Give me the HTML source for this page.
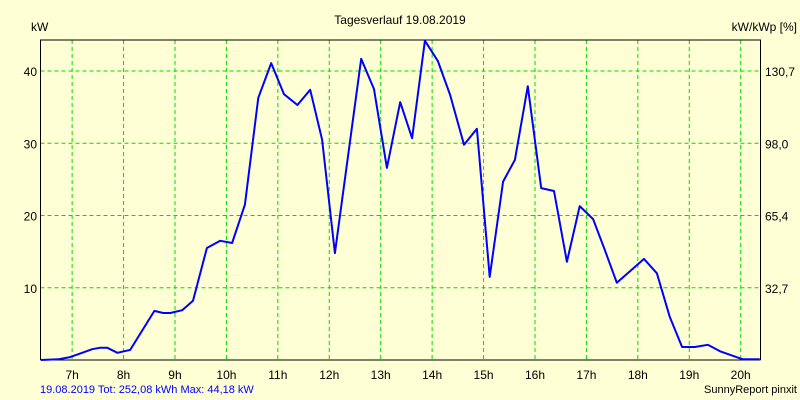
<!DOCTYPE html>
<html><head><meta charset="utf-8"><style>
body{margin:0;background:#FFFFD5;}
svg{display:block;font-family:"Liberation Sans",sans-serif;}
</style></head><body>
<svg id="c" width="800" height="400">
<rect width="800" height="400" fill="#FFFFD5"/>
<text x="400" y="24" text-anchor="middle" font-size="12">Tagesverlauf 19.08.2019</text>
<text x="31" y="31" font-size="12">kW</text>
<text x="797" y="31" text-anchor="end" font-size="12">kW/kWp [%]</text>
<text x="40" y="393" font-size="11" fill="#0000FF">19.08.2019 Tot: 252,08 kWh Max: 44,18 kW</text>
<text x="797" y="393" text-anchor="end" font-size="11">SunnyReport pinxit</text>
<g id="grid"></g><g id="axes"></g><g id="series"></g>
</svg>
<script>
const hourTicks=[7,8,9,10,11,12,13,14,15,16,17,18,19,20];
const kwTicks=[10,20,30,40];
const pctLabels=["32,7","65,4","98,0","130,7"];
const hours=[6.39,6.73,6.96,7.12,7.39,7.55,7.68,7.88,8.13,8.60,8.77,8.91,9.14,9.35,9.62,9.88,10.11,10.36,10.62,10.87,11.12,11.38,11.63,11.86,12.11,12.62,12.87,13.12,13.38,13.61,13.86,14.11,14.35,14.62,14.87,15.12,15.38,15.61,15.86,16.12,16.37,16.62,16.87,17.13,17.36,17.59,17.88,18.12,18.37,18.62,18.86,19.11,19.36,19.60,20.04,20.37];
const power=[0,0.1,0.4,0.8,1.5,1.7,1.7,1.0,1.4,6.8,6.5,6.5,6.9,8.2,15.5,16.5,16.2,21.5,36.3,41.1,36.8,35.3,37.4,30.5,14.8,41.7,37.5,26.6,35.7,30.7,44.2,41.4,36.7,29.8,32.0,11.5,24.7,27.7,37.9,23.8,23.4,13.6,21.3,19.5,15.2,10.7,12.5,14.0,12.0,6.0,1.8,1.8,2.1,1.2,0.1,0.1];
const L=40.5,R=760.5,T=40,B=360,x0=6.385,x1=20.385,yMax=44.3;
const X=h=>L+(h-x0)/(x1-x0)*(R-L);
const Y=v=>B-v/yMax*(B-T);
const NS="http://www.w3.org/2000/svg";
function mk(t,a,p){const e=document.createElementNS(NS,t);for(const k in a)e.setAttribute(k,a[k]);p.appendChild(e);return e;}
const g=document.getElementById('grid'),ax=document.getElementById('axes'),s=document.getElementById('series');
hourTicks.forEach(h=>{
 const l=mk('line',{x1:X(h),x2:X(h),y1:T,y2:B,stroke:'#00DD00','stroke-dasharray':'4,3'},g);
 
 
 const t=mk('text',{x:X(h),y:379,'text-anchor':'middle','font-size':12},ax);t.textContent=h+'h';
 
 
});
kwTicks.forEach((v,i)=>{
 const l=mk('line',{x1:L,x2:R,y1:Y(v),y2:Y(v),stroke:'#00DD00','stroke-dasharray':'4,3'},g);
 
 
 const t=mk('text',{x:37,y:Y(v)+5,'text-anchor':'end','font-size':12},ax);t.textContent=v;
 
 
 const t2=mk('text',{x:765,y:Y(v)+5,'font-size':12},ax);t2.textContent=pctLabels[i];
 
 
});
const fr=mk('path',{d:`M${L} ${B}V${T}H${R}V${B}`,fill:'none',stroke:'#000','stroke-width':1},ax);


const bl=mk('line',{x1:L,x2:R,y1:B,y2:B,stroke:'#000'},ax);


const pl=mk('polyline',{points:hours.map((h,i)=>X(h).toFixed(1)+','+Y(power[i]).toFixed(1)).join(' '),fill:'none',stroke:'#0000FF','stroke-width':2,'stroke-linejoin':'round'},s);


</script>
</body></html>
